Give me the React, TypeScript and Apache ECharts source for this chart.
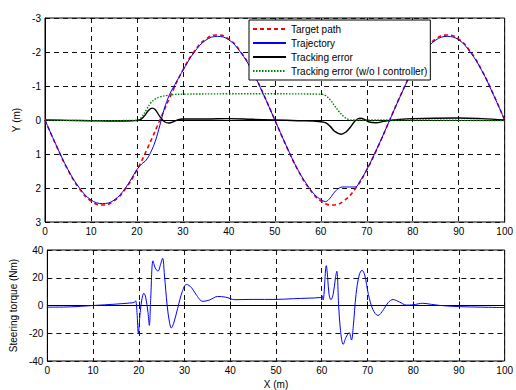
import React, { useEffect, useRef } from "react";
import * as echarts from "echarts";

// ---- Data ----
const targetPath: [number, number][] = [
  [0, 0], [2.5, 0.77], [5, 1.47], [7.5, 2.02], [10, 2.38], [12.5, 2.5], [15, 2.38], [17.5, 2.02],
  [20, 1.47], [22.5, 0.77], [25, 0], [27.5, -0.77], [30, -1.47], [32.5, -2.02], [35, -2.38],
  [37.5, -2.5], [40, -2.38], [42.5, -2.02], [45, -1.47], [47.5, -0.77], [50, 0], [52.5, 0.77],
  [55, 1.47], [57.5, 2.02], [60, 2.38], [62.5, 2.5], [65, 2.38], [67.5, 2.02], [70, 1.47],
  [72.5, 0.77], [75, 0], [77.5, -0.77], [80, -1.47], [82.5, -2.02], [85, -2.38], [87.5, -2.5],
  [90, -2.38], [92.5, -2.02], [95, -1.47], [97.5, -0.77], [100, 0],
];

const trajectory: [number, number][] = [
  [0, 0], [2.5, 0.76], [5, 1.46], [7.5, 2.0], [10, 2.35], [12.5, 2.46], [15, 2.36], [17.5, 2.0],
  [20, 1.46], [21, 1.3], [22, 1.18], [23, 0.95], [24, 0.62], [25, 0.15], [26, -0.35], [27, -0.72],
  [28, -0.98], [29, -1.22], [30, -1.46], [32.5, -2.0], [35, -2.35], [37.5, -2.46], [40, -2.36],
  [42.5, -2.0], [45, -1.46], [47.5, -0.76], [50, 0], [52.5, 0.76], [55, 1.46], [57.5, 2.0],
  [59, 2.24], [60, 2.33], [61, 2.4], [62, 2.3], [63, 2.12], [64, 2.0], [64.8, 1.97], [67.5, 1.97],
  [68.5, 1.8], [70, 1.46], [72.5, 0.76], [75, 0], [77.5, -0.76], [80, -1.46], [82.5, -2.0],
  [85, -2.35], [87.5, -2.46], [90, -2.36], [92.5, -2.0], [95, -1.46], [97.5, -0.76], [100, 0],
];

const trackingError: [number, number][] = [
  [0, 0], [5, 0.01], [10, 0.02], [15, 0.03], [19, 0.02], [20.5, 0], [21.5, -0.1], [22.5, -0.28],
  [23.3, -0.35], [24, -0.3], [25, -0.1], [26, 0.05], [27, 0.09], [28, 0.05], [29, -0.01],
  [30, -0.03], [35, -0.03], [40, -0.04], [45, -0.02], [50, 0], [55, 0.02], [60, 0.05], [61, 0.08],
  [62, 0.18], [63, 0.33], [64.4, 0.42], [65.5, 0.35], [66.5, 0.2], [67.5, 0.02], [68.5, -0.05],
  [69.5, -0.02], [70.5, 0.06], [72, 0.08], [74, 0.03], [76, 0], [80, -0.04], [90, -0.06],
  [95, -0.04], [100, 0],
];

const trackingErrorNoI: [number, number][] = [
  [0, 0], [10, 0.02], [20, 0.01], [21, -0.08], [22, -0.29], [23, -0.5], [24, -0.62], [25, -0.68],
  [26.5, -0.72], [28, -0.75], [30, -0.76], [40, -0.77], [50, -0.77], [60, -0.76], [61, -0.72],
  [62, -0.6], [63, -0.42], [64, -0.24], [65, -0.1], [66, -0.02], [67, 0], [80, 0], [90, 0.01],
  [100, 0.02],
];

const steeringTorque: [number, number][] = [
  [0, -1.2], [5, -1], [10, 0], [15, 1], [18, 1.8], [19, 2.2], [19.3, 3.4], [19.6, -5], [19.9, -20],
  [20.3, -5], [20.7, 5], [21.1, 8.8], [21.5, 6], [22, -5], [22.3, -14.3], [22.6, 5], [23.1, 32.2],
  [23.6, 27], [24.2, 24.7], [24.7, 29], [25.2, 34.1], [25.6, 22], [26.2, 0], [26.7, -12],
  [27.1, -16.2], [27.6, -13], [28.5, -2], [29.5, 10], [30.4, 15.2], [31.5, 13], [32.5, 8], [34, 3],
  [35.5, 4], [37.2, 6.5], [39, 6], [41, 4.2], [45, 4.4], [50, 4.4], [53.8, 4.9], [57, 5.3],
  [59.8, 5.8], [60.1, 7], [60.3, 4], [61, 28.7], [61.3, 20], [61.6, 8], [62, 4.1], [62.5, 8],
  [63, 20], [63.3, 24.7], [63.7, 0], [64.1, -18], [64.7, -28], [65.3, -23], [66, -19.5],
  [66.5, -24.9], [66.9, -15], [67.5, 8], [68.2, 22], [68.8, 25.4], [69.4, 22], [70.2, 8],
  [71.2, -3], [72.3, -7.2], [73.5, -3], [74.5, 2], [75.6, 4.3], [77, 2.5], [78.5, 0.3], [80, 0.5],
  [82.1, 1.6], [84, 0.8], [86, 0], [90, -0.8], [95, -1.2], [100, -1.5],
];

const xTicks = { min: 0, max: 100, interval: 10 };
const yTopTicks = { min: -3, max: 3, interval: 1 };
const yBottomTicks = { min: -40, max: 40, interval: 20 };

const FONT = "'Liberation Sans', Arial, sans-serif";

export default function App() {
  const ref = useRef<HTMLDivElement>(null);
  useEffect(() => {
    if (!ref.current) return;
    const chart = echarts.init(ref.current, undefined, { renderer: "svg" });
    const split = { show: true, lineStyle: { color: "#111", width: 1, type: [5, 4] as any } };
    const label = { color: "#000", fontSize: 10, fontFamily: FONT };
    const tick = { show: true, inside: true, length: 4, lineStyle: { color: "#000" } };
    const axisLine = { show: true, lineStyle: { color: "#000", width: 1 } };
    chart.setOption({
      animation: false,
      backgroundColor: "#fff",
      textStyle: { fontFamily: FONT },
      legend: {
        left: 249,
        top: 20,
        orient: "vertical",
        backgroundColor: "#fff",
        borderColor: "#000",
        borderWidth: 1,
        borderRadius: 0,
        padding: [4, 3, 4, 3],
        itemWidth: 33,
        itemHeight: 10,
        itemGap: 4,
        itemStyle: { opacity: 0 },
        textStyle: { color: "#000", fontSize: 10, fontFamily: FONT },
        data: ["Target path", "Trajectory", "Tracking error", "Tracking error (w/o I controller)"],
      },
      grid: [
        { left: 45, right: 9, top: 18, height: 204, show: true, borderColor: "#000", borderWidth: 1, backgroundColor: "transparent" },
        { left: 45, right: 9, top: 250, height: 113, show: true, borderColor: "#000", borderWidth: 1, backgroundColor: "transparent" },
      ],
      xAxis: [
        {
          type: "value", gridIndex: 0, ...xTicks,
          axisLabel: { ...label, margin: 4 }, splitLine: split, axisTick: tick, axisLine,
        },
        {
          type: "value", gridIndex: 1, ...xTicks,
          axisLabel: { ...label, margin: 4 }, splitLine: split, axisTick: tick, axisLine,
          name: "X (m)", nameLocation: "middle", nameGap: 18, nameTextStyle: label,
        },
      ],
      yAxis: [
        {
          type: "value", gridIndex: 0, inverse: true, ...yTopTicks,
          axisLabel: { ...label, margin: 4 }, splitLine: split, axisTick: tick, axisLine,
          name: "Y (m)", nameLocation: "middle", nameGap: 9, nameTextStyle: label,
        },
        {
          type: "value", gridIndex: 1, ...yBottomTicks,
          axisLabel: { ...label, margin: 4 }, splitLine: split, axisTick: tick, axisLine,
          name: "Steering torque (Nm)", nameLocation: "middle", nameGap: 15, nameTextStyle: label,
        },
      ],
      series: [
        {
          name: "Target path", type: "line", xAxisIndex: 0, yAxisIndex: 0, data: targetPath,
          symbol: "none", smooth: 0.5, lineStyle: { color: "#ff0000", width: 1.6, type: [4, 3] },
          itemStyle: { color: "#ff0000" },
        },
        {
          name: "Trajectory", type: "line", xAxisIndex: 0, yAxisIndex: 0, data: trajectory,
          symbol: "none", smooth: 0.4, lineStyle: { color: "#0000ff", width: 1 },
          itemStyle: { color: "#0000ff" },
        },
        {
          name: "Tracking error", type: "line", xAxisIndex: 0, yAxisIndex: 0, data: trackingError,
          symbol: "none", smooth: 0.4, lineStyle: { color: "#000000", width: 1.4 },
          itemStyle: { color: "#000000" },
        },
        {
          name: "Tracking error (w/o I controller)", type: "line", xAxisIndex: 0, yAxisIndex: 0,
          data: trackingErrorNoI, symbol: "none", smooth: 0.4,
          lineStyle: { color: "#008000", width: 1.4, type: [1.5, 1.5] },
          itemStyle: { color: "#008000" },
        },
        {
          name: "Steering torque", type: "line", xAxisIndex: 1, yAxisIndex: 1, data: steeringTorque,
          symbol: "none", smooth: 0.35, lineStyle: { color: "#0000ff", width: 1 },
          itemStyle: { color: "#0000ff" },
        },
      ],
    });
    return () => chart.dispose();
  }, []);
  return <div ref={ref} style={{ width: 516, height: 390, position: "absolute", left: 0, top: 0 }} />;
}
